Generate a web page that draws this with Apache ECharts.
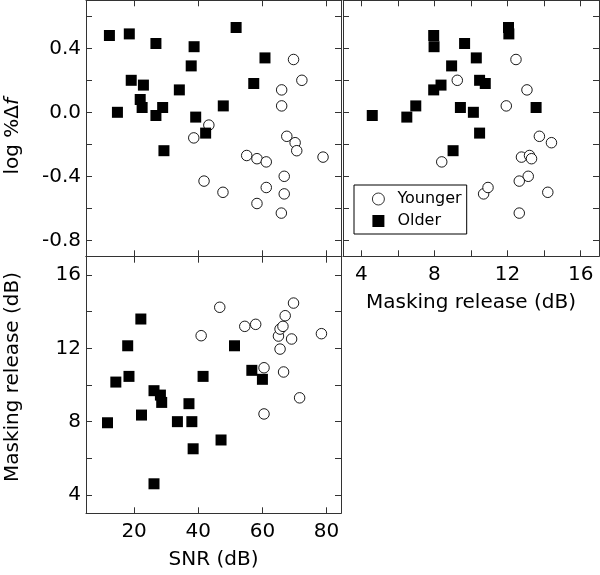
<!DOCTYPE html>
<html>
<head>
<meta charset="utf-8">
<script src="https://cdn.jsdelivr.net/npm/echarts@6/dist/echarts.min.js"></script>
<style>html,body{margin:0;padding:0;background:#fff}#c{width:600px;height:575px}</style>
</head>
<body>
<div id="c"></div>
<script>
// Panel A: SNR (dB) vs log %Δf
const snrYoungA = [38.6, 43.3, 41.8, 47.7, 55.1, 58.3, 61.2, 58.3, 61.2, 65.9, 66.8, 66.8, 66.0, 66.0, 67.6, 70.2, 70.7, 69.7, 72.3, 78.9];
const ldfYoungA = [-0.16, -0.08, -0.43, -0.50, -0.27, -0.29, -0.31, -0.57, -0.47, -0.63, -0.51, -0.40, 0.04, 0.14, -0.15, -0.19, -0.24, 0.33, 0.20, -0.28];
const snrOldA = [12.3, 14.8, 18.5, 19.1, 22.9, 21.9, 22.5, 26.8, 26.8, 28.9, 29.3, 34.1, 37.8, 38.7, 39.2, 42.3, 47.8, 51.8, 57.3, 60.8];
const ldfOldA = [0.48, 0.00, 0.49, 0.20, 0.17, 0.08, 0.03, 0.43, -0.02, 0.03, -0.24, 0.14, 0.29, 0.41, -0.03, -0.13, 0.04, 0.53, 0.18, 0.34];

// Panel B: Masking release (dB) vs log %Δf
const mrYoungB = [9.25, 8.4, 10.69, 10.93, 11.93, 12.46, 13.06, 12.76, 13.2, 13.31, 13.13, 12.64, 12.64, 13.74, 14.4, 14.2];
const ldfYoungB = [0.20, -0.31, -0.51, -0.47, 0.04, 0.33, 0.14, -0.28, -0.27, -0.29, -0.40, -0.43, -0.63, -0.15, -0.19, -0.50];
const mrOldB = [4.6, 6.49, 6.98, 7.96, 7.98, 7.96, 8.36, 8.94, 9.02, 9.42, 9.65, 10.13, 10.29, 10.47, 10.47, 10.78, 12.05, 12.07, 13.56];
const ldfOldB = [-0.02, -0.03, 0.04, 0.48, 0.41, 0.14, 0.17, 0.29, -0.24, 0.03, 0.43, 0.00, 0.34, -0.13, 0.20, 0.18, 0.53, 0.49, 0.03];

// Panel C: SNR (dB) vs Masking release (dB)
const snrYoungC = [40.9, 46.7, 54.5, 57.9, 60.5, 60.5, 65.0, 65.5, 66.4, 65.5, 67.1, 66.6, 69.7, 69.1, 71.6, 78.4];
const mrYoungC = [12.69, 14.24, 13.2, 13.31, 10.94, 8.42, 12.67, 13.05, 13.2, 11.96, 13.78, 10.71, 14.47, 12.51, 9.3, 12.8];
const snrOldC = [11.7, 14.3, 18.0, 18.4, 22.1, 22.3, 26.2, 28.2, 28.6, 26.2, 33.5, 37.1, 38.0, 38.4, 41.5, 47.1, 51.3, 56.7, 60.0];
const mrOldC = [7.94, 10.16, 12.14, 10.47, 13.6, 8.36, 9.69, 9.45, 9.05, 4.61, 8.0, 8.98, 8.0, 6.52, 10.47, 7.0, 12.14, 10.8, 10.31];

// Tick values and labels
const snrTicks = [20, 40, 60, 80];
const snrLabels = [20, 40, 60, 80];
const mrTicks = [4, 6, 8, 10, 12, 14, 16];
const mrLabels = [4, 8, 12, 16];
const ldfTicks = [-0.8, -0.6, -0.4, -0.2, 0, 0.2, 0.4, 0.6];
const ldfLabels = [-0.8, -0.4, 0, 0.4];
const groupNames = ['Younger', 'Older'];

const FONT = 'DejaVu Sans';
const LINE = '#333';
const zip = (a, b) => a.map((v, i) => [v, b[i]]);

function axis(o) {
  const a = {
    type: 'value',
    gridIndex: o.grid,
    position: o.pos,
    min: o.min, max: o.max,
    axisLine: { show: true, onZero: false, lineStyle: { color: LINE, width: 1 } },
    axisTick: { show: true, inside: true, length: 6, customValues: o.ticks, lineStyle: { color: LINE, width: 1 } },
    splitLine: { show: false },
    axisLabel: { show: !!o.labels, fontFamily: FONT, fontSize: 20, color: '#000', margin: o.margin || 8 },
    axisPointer: { show: false }
  };
  if (o.labels) {
    a.axisLabel.customValues = o.labels;
    if (o.fmt) a.axisLabel.formatter = o.fmt;
  }
  if (o.name) {
    a.name = o.name;
    a.nameLocation = 'middle';
    a.nameGap = o.nameGap;
    a.nameTextStyle = Object.assign({ fontFamily: FONT, fontSize: 20, color: '#000' }, o.nameStyle || {});
  }
  return a;
}

const SNR = [5, 84.5], MR = [3, 17], LDF = [-0.9, 0.7];

const option = {
  animation: false,
  backgroundColor: '#fff',
  grid: [
    { left: 86, top: 0.3, width: 255, height: 256 },
    { left: 343, top: 0.3, width: 256, height: 256 },
    { left: 86, top: 256.7, width: 255, height: 256.6 }
  ],
  xAxis: [
    axis({ grid: 0, pos: 'bottom', min: SNR[0], max: SNR[1], ticks: snrTicks }),
    axis({ grid: 0, pos: 'top', min: SNR[0], max: SNR[1], ticks: snrTicks }),
    axis({ grid: 1, pos: 'bottom', min: MR[0], max: MR[1], ticks: mrTicks, labels: mrLabels, margin: 8,
           name: 'Masking release (dB)', nameGap: 36 }),
    axis({ grid: 1, pos: 'top', min: MR[0], max: MR[1], ticks: mrTicks }),
    axis({ grid: 2, pos: 'bottom', min: SNR[0], max: SNR[1], ticks: snrTicks, labels: snrLabels, margin: 8,
           name: 'SNR (dB)', nameGap: 36 }),
    axis({ grid: 2, pos: 'top', min: SNR[0], max: SNR[1], ticks: snrTicks })
  ],
  yAxis: [
    axis({ grid: 0, pos: 'left', min: LDF[0], max: LDF[1], ticks: ldfTicks, labels: ldfLabels, margin: 5,
           fmt: v => Number(v).toFixed(1),
           name: 'log %Δ{i|f}', nameGap: 63,
           nameStyle: { padding: [0, 16, 0, 0], rich: { i: { fontFamily: FONT, fontSize: 20, fontStyle: 'italic', color: '#000' } } } }),
    axis({ grid: 0, pos: 'right', min: LDF[0], max: LDF[1], ticks: ldfTicks }),
    axis({ grid: 1, pos: 'left', min: LDF[0], max: LDF[1], ticks: ldfTicks }),
    axis({ grid: 1, pos: 'right', min: LDF[0], max: LDF[1], ticks: ldfTicks }),
    axis({ grid: 2, pos: 'left', min: MR[0], max: MR[1], ticks: mrTicks, labels: mrLabels, margin: 5,
           name: 'Masking release (dB)', nameGap: 63, nameStyle: { padding: [0, 0, 0, 16] } }),
    axis({ grid: 2, pos: 'right', min: MR[0], max: MR[1], ticks: mrTicks })
  ],
  legend: {
    data: [
      { name: groupNames[0], itemStyle: { color: '#fff', borderColor: '#000', borderWidth: 0.8 } },
      { name: groupNames[1], itemStyle: { color: '#000', borderWidth: 0 } }
    ],
    orient: 'vertical',
    left: 354, top: 185,
    width: 113,
    backgroundColor: '#fff',
    borderColor: '#000', borderWidth: 1, borderRadius: 0,
    padding: [6, 5, 5, 18],
    itemGap: 6,
    itemWidth: 12, itemHeight: 12,
    textStyle: { fontFamily: FONT, fontSize: 16, color: '#000', lineHeight: 16, padding: [0, 0, 0, 8] }
  },
  series: []
};

const youngStyle = { type: 'scatter', name: groupNames[0], symbol: 'circle', symbolSize: 10.5,
  itemStyle: { color: '#fff', borderColor: '#000', borderWidth: 0.9, opacity: 1 }, z: 2 };
const oldStyle = { type: 'scatter', name: groupNames[1], symbol: 'rect', symbolSize: 11,
  itemStyle: { color: '#000', opacity: 1 }, z: 3 };

option.series.push(Object.assign({}, youngStyle, { xAxisIndex: 0, yAxisIndex: 0, data: zip(snrYoungA, ldfYoungA) }));
option.series.push(Object.assign({}, youngStyle, { xAxisIndex: 2, yAxisIndex: 2, data: zip(mrYoungB, ldfYoungB) }));
option.series.push(Object.assign({}, youngStyle, { xAxisIndex: 4, yAxisIndex: 4, data: zip(snrYoungC, mrYoungC) }));
option.series.push(Object.assign({}, oldStyle, { xAxisIndex: 0, yAxisIndex: 0, data: zip(snrOldA, ldfOldA) }));
option.series.push(Object.assign({}, oldStyle, { xAxisIndex: 2, yAxisIndex: 2, data: zip(mrOldB, ldfOldB) }));
option.series.push(Object.assign({}, oldStyle, { xAxisIndex: 4, yAxisIndex: 4, data: zip(snrOldC, mrOldC) }));

const chart = echarts.init(document.getElementById('c'), null, { renderer: 'canvas' });
chart.setOption(option);
</script>
</body>
</html>
